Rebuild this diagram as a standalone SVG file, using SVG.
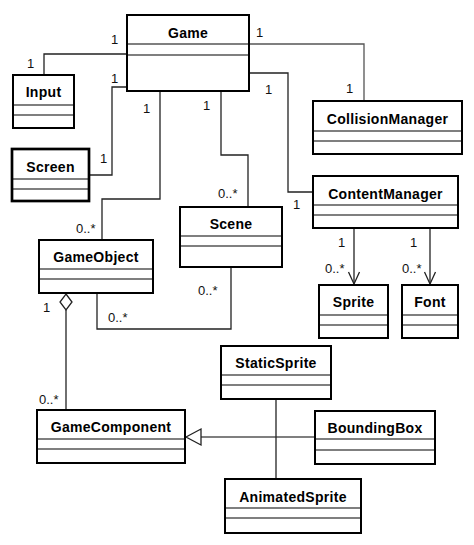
<svg xmlns="http://www.w3.org/2000/svg" width="474" height="545" viewBox="0 0 474 545">
<style>
.box{fill:#fff;stroke:#000;stroke-width:2}
.thick{stroke-width:2.7}
.div{stroke:#000;stroke-width:1.2}
.name{font-family:"Liberation Sans",Arial,sans-serif;font-weight:bold;font-size:14px;fill:#000;text-anchor:middle;letter-spacing:0.3px}
.lbl{font-family:"Liberation Sans",Arial,sans-serif;font-size:13px;fill:#111}
.con{fill:none;stroke:#222;stroke-width:1.3}
.light{stroke:#555}
</style>
<rect width="474" height="545" fill="#fff"/>
<g id="connectors">
<polyline class="con" points="44,75 44,54 127,54"/>
<polyline class="con" points="89,175 112,175 112,87 127,87"/>
<polyline class="con" points="160,91 160,199 102,199 102,240"/>
<polyline class="con" points="221,91 221,155 248,155 248,207"/>
<polyline class="con" points="97,293 97,329 231,329 231,267"/>
<polyline class="con light" points="249,44 364,44 364,101"/>
<polyline class="con" points="249,73 288,73 288,192 313,192"/>
<line class="con" x1="354" y1="228" x2="354" y2="284"/>
<polyline class="con" points="348.5,272 354,284 359.5,272"/>
<line class="con" x1="430" y1="228" x2="430" y2="284"/>
<polyline class="con" points="424.5,272 430,284 435.5,272"/>
<polygon class="con" points="66,294 72,302 66,310 60,302" fill="#fff"/>
<line class="con" x1="66" y1="310" x2="66" y2="410"/>
<line class="con light" x1="201" y1="437" x2="315" y2="437"/>
<polygon class="con" points="186,437 201,429 201,445" fill="#fff"/>
<line class="con" x1="276" y1="399" x2="276" y2="479"/>
<text class="lbl" x="27" y="68">1</text>
<text class="lbl" x="111" y="44">1</text>
<text class="lbl" x="100" y="163">1</text>
<text class="lbl" x="111" y="83">1</text>
<text class="lbl" x="143" y="113">1</text>
<text class="lbl" x="76" y="233">0..*</text>
<text class="lbl" x="203" y="110">1</text>
<text class="lbl" x="218" y="198">0..*</text>
<text class="lbl" x="108" y="322">0..*</text>
<text class="lbl" x="198" y="295">0..*</text>
<text class="lbl" x="256" y="37">1</text>
<text class="lbl" x="346" y="93">1</text>
<text class="lbl" x="265" y="94">1</text>
<text class="lbl" x="293" y="209">1</text>
<text class="lbl" x="338" y="247">1</text>
<text class="lbl" x="325" y="273">0..*</text>
<text class="lbl" x="410" y="247">1</text>
<text class="lbl" x="402" y="273">0..*</text>
<text class="lbl" x="43" y="312">1</text>
<text class="lbl" x="39" y="404">0..*</text>
</g>
<g id="Game">
<rect class="box" x="127" y="15" width="122" height="76"/>
<line class="div" x1="127" y1="44" x2="249" y2="44"/>
<line class="div" x1="127" y1="55" x2="249" y2="55"/>
<text class="name" x="188" y="38">Game</text>
</g>
<g id="Input">
<rect class="box" x="13" y="75" width="61" height="53"/>
<line class="div" x1="13" y1="105" x2="74" y2="105"/>
<line class="div" x1="13" y1="115" x2="74" y2="115"/>
<text class="name" x="43.5" y="97">Input</text>
</g>
<g id="Screen">
<rect class="box thick" x="12" y="149" width="77" height="52"/>
<line class="div" x1="12" y1="179" x2="89" y2="179"/>
<line class="div" x1="12" y1="189" x2="89" y2="189"/>
<text class="name" x="50.5" y="172">Screen</text>
</g>
<g id="CollisionManager">
<rect class="box" x="313" y="101" width="149" height="53"/>
<line class="div" x1="313" y1="131" x2="462" y2="131"/>
<line class="div" x1="313" y1="141" x2="462" y2="141"/>
<text class="name" x="387.5" y="124">CollisionManager</text>
</g>
<g id="ContentManager">
<rect class="box" x="313" y="176" width="145" height="52"/>
<line class="div" x1="313" y1="205" x2="458" y2="205"/>
<line class="div" x1="313" y1="215" x2="458" y2="215"/>
<text class="name" x="385.5" y="199">ContentManager</text>
</g>
<g id="Scene">
<rect class="box" x="180" y="207" width="102" height="60"/>
<line class="div" x1="180" y1="236" x2="282" y2="236"/>
<line class="div" x1="180" y1="246" x2="282" y2="246"/>
<text class="name" x="231" y="229">Scene</text>
</g>
<g id="GameObject">
<rect class="box" x="39" y="240" width="114" height="53"/>
<line class="div" x1="39" y1="269" x2="153" y2="269"/>
<line class="div" x1="39" y1="279" x2="153" y2="279"/>
<text class="name" x="96" y="262">GameObject</text>
</g>
<g id="Sprite">
<rect class="box" x="319" y="285" width="69" height="53"/>
<line class="div" x1="319" y1="315" x2="388" y2="315"/>
<line class="div" x1="319" y1="325" x2="388" y2="325"/>
<text class="name" x="353.5" y="307">Sprite</text>
</g>
<g id="Font">
<rect class="box" x="402" y="285" width="56" height="53"/>
<line class="div" x1="402" y1="315" x2="458" y2="315"/>
<line class="div" x1="402" y1="325" x2="458" y2="325"/>
<text class="name" x="430" y="307">Font</text>
</g>
<g id="StaticSprite">
<rect class="box" x="221" y="346" width="110" height="53"/>
<line class="div" x1="221" y1="375" x2="331" y2="375"/>
<line class="div" x1="221" y1="385" x2="331" y2="385"/>
<text class="name" x="276" y="368">StaticSprite</text>
</g>
<g id="GameComponent">
<rect class="box" x="37" y="410" width="148" height="53"/>
<line class="div" x1="37" y1="439" x2="185" y2="439"/>
<line class="div" x1="37" y1="449" x2="185" y2="449"/>
<text class="name" x="111" y="432">GameComponent</text>
</g>
<g id="BoundingBox">
<rect class="box" x="315" y="411" width="120" height="53"/>
<line class="div" x1="315" y1="439" x2="435" y2="439"/>
<line class="div" x1="315" y1="450" x2="435" y2="450"/>
<text class="name" x="375" y="433">BoundingBox</text>
</g>
<g id="AnimatedSprite">
<rect class="box" x="225" y="479" width="136" height="54"/>
<line class="div" x1="225" y1="508" x2="361" y2="508"/>
<line class="div" x1="225" y1="518" x2="361" y2="518"/>
<text class="name" x="293" y="502">AnimatedSprite</text>
</g>
</svg>
